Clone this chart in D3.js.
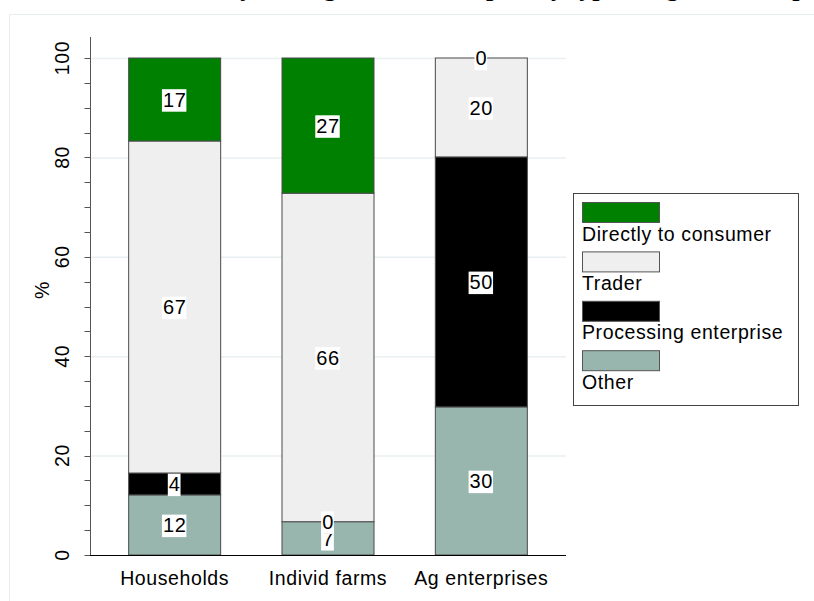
<!DOCTYPE html>
<html>
<head>
<meta charset="utf-8">
<script src="https://cdn.jsdelivr.net/npm/d3@7"></script>
<style>
  body { margin: 0; background: #fff; }
  text { font-family: Arial, "Liberation Sans", sans-serif; letter-spacing: 0.6px; }
</style>
</head>
<body>
<div id="vis1"></div>
<script>
// data
var categories = ["Households", "Individ farms", "Ag enterprises"];
var seriesNames = ["Other", "Processing enterprise", "Trader", "Directly to consumer"];
var other      = [12.1, 6.7, 29.8];
var processing = [4.4, 0.0, 50.3];
var trader     = [66.8, 66.1, 19.9];
var direct     = [16.7, 27.2, 0.0];
var yTicks = [0, 20, 40, 60, 80, 100];
var legendOrder = ["Directly to consumer", "Trader", "Processing enterprise", "Other"];

var colors = {
  "Directly to consumer": "#008000",
  "Trader": "#efefef",
  "Processing enterprise": "#000000",
  "Other": "#98b6ae"
};

var W = 814, H = 601;
var fs = "19.5px";

var svg = d3.select("#vis1")
  .append("svg")
    .attr("width", W)
    .attr("height", H);

// faint outer frame
svg.append("path")
  .attr("d", "M9.5," + H + "V14.5H" + W)
  .attr("fill", "none")
  .attr("stroke", "#e6edef")
  .attr("stroke-width", 1);

// title, cut off at the top (only descenders show)
svg.append("text")
  .attr("x", 520)
  .attr("y", -4.5)
  .attr("text-anchor", "middle")
  .style("font-family", "'Liberation Serif', 'Times New Roman', serif")
  .style("font-weight", "bold")
  .style("letter-spacing", "0px")
  .style("font-size", "26px")
  .text("Main buyer of agricultural output, by type of agricultural producer");

var x = d3.scaleBand()
  .domain(categories)
  .range([98, 558]);

var y = d3.scaleLinear()
  .domain([0, 100])
  .range([555, 58]);

var barW = 92;

// gridlines
svg.append("g")
  .selectAll("line")
  .data(yTicks.slice(1))
  .enter()
  .append("line")
    .attr("x1", 91)
    .attr("x2", 566)
    .attr("y1", function(d) { return y(d) + 0.5; })
    .attr("y2", function(d) { return y(d) + 0.5; })
    .attr("stroke", "#e8f0f2")
    .attr("stroke-width", 1.5);

// stack
var rows = categories.map(function(c, i) {
  return {
    cat: c,
    "Other": other[i],
    "Processing enterprise": processing[i],
    "Trader": trader[i],
    "Directly to consumer": direct[i]
  };
});
var stacked = d3.stack().keys(seriesNames)(rows);

var layers = svg.append("g")
  .selectAll("g")
  .data(stacked)
  .enter()
  .append("g")
    .attr("fill", function(d) { return colors[d.key]; });

layers.selectAll("rect")
  .data(function(d) { return d; })
  .enter()
  .append("rect")
    .attr("x", function(d) { return x(d.data.cat) + x.bandwidth() / 2 - barW / 2; })
    .attr("y", function(d) { return y(d[1]); })
    .attr("width", barW)
    .attr("height", function(d) { return y(d[0]) - y(d[1]); })
    .attr("stroke", "#4a4a4a")
    .attr("stroke-width", 1);

// y axis
var yAxis = svg.append("g")
  .attr("transform", "translate(90.5,0)");
yAxis.append("line")
  .attr("y1", 37).attr("y2", 555)
  .attr("stroke", "#555");
yAxis.selectAll("line.minor")
  .data(d3.range(0, 101, 5))
  .enter()
  .append("line")
    .attr("class", "minor")
    .attr("x1", -6).attr("x2", 0)
    .attr("y1", function(d) { return Math.round(y(d)) + 0.5; })
    .attr("y2", function(d) { return Math.round(y(d)) + 0.5; })
    .attr("stroke", "#555");
yAxis.selectAll("text")
  .data(yTicks)
  .enter()
  .append("text")
    .attr("transform", function(d) { return "translate(-22," + y(d) + ") rotate(-90)"; })
    .attr("text-anchor", "middle")
    .style("font-size", fs)
    .style("fill", "#000")
    .text(function(d) { return d; });

svg.append("text")
  .attr("transform", "translate(49,290) rotate(-90)")
  .attr("text-anchor", "middle")
  .style("font-size", fs)
  .text("%");

// x axis
svg.append("line")
  .attr("x1", 90).attr("x2", 566)
  .attr("y1", 555.5).attr("y2", 555.5)
  .attr("stroke", "#000");

svg.append("g")
  .selectAll("text")
  .data(categories)
  .enter()
  .append("text")
    .attr("x", function(d) { return x(d) + x.bandwidth() / 2; })
    .attr("y", 585)
    .attr("text-anchor", "middle")
    .style("font-size", fs)
    .text(function(d) { return d; });

// value labels with white boxes
var labels = [];
stacked.forEach(function(layer) {
  layer.forEach(function(d) {
    labels.push({ cat: d.data.cat, v: d[1] - d[0], mid: (d[0] + d[1]) / 2 });
  });
});

var lab = svg.append("g")
  .selectAll("g")
  .data(labels)
  .enter()
  .append("g")
    .attr("transform", function(d) {
      return "translate(" + (x(d.cat) + x.bandwidth() / 2) + "," + y(d.mid) + ")";
    });

lab.append("text")
  .attr("text-anchor", "middle")
  .attr("dy", "0.36em")
  .style("font-size", "20px")
  .text(function(d) { return Math.round(d.v); })
  .each(function() {
    var b = this.getBBox();
    d3.select(this.parentNode).insert("rect", "text")
      .attr("x", b.x - 1)
      .attr("y", b.y + 0.5)
      .attr("width", b.width + 1)
      .attr("height", b.height + 0.5)
      .attr("fill", "#fff");
  });

// legend
var lg = svg.append("g");
lg.append("rect")
  .attr("x", 573.5).attr("y", 193.5)
  .attr("width", 225).attr("height", 212)
  .attr("fill", "#fff")
  .attr("stroke", "#444");

var items = lg.selectAll("g.item")
  .data(legendOrder)
  .enter()
  .append("g")
    .attr("class", "item")
    .attr("transform", function(d, i) { return "translate(582," + (202 + i * 49.4) + ")"; });

items.append("rect")
  .attr("x", 0.5).attr("y", 0.5)
  .attr("width", 77).attr("height", 20)
  .attr("fill", function(d) { return colors[d]; })
  .attr("stroke", "#555");

items.append("text")
  .attr("x", 0)
  .attr("y", 38.5)
  .style("font-size", fs)
  .text(function(d) { return d; });
</script>
</body>
</html>
